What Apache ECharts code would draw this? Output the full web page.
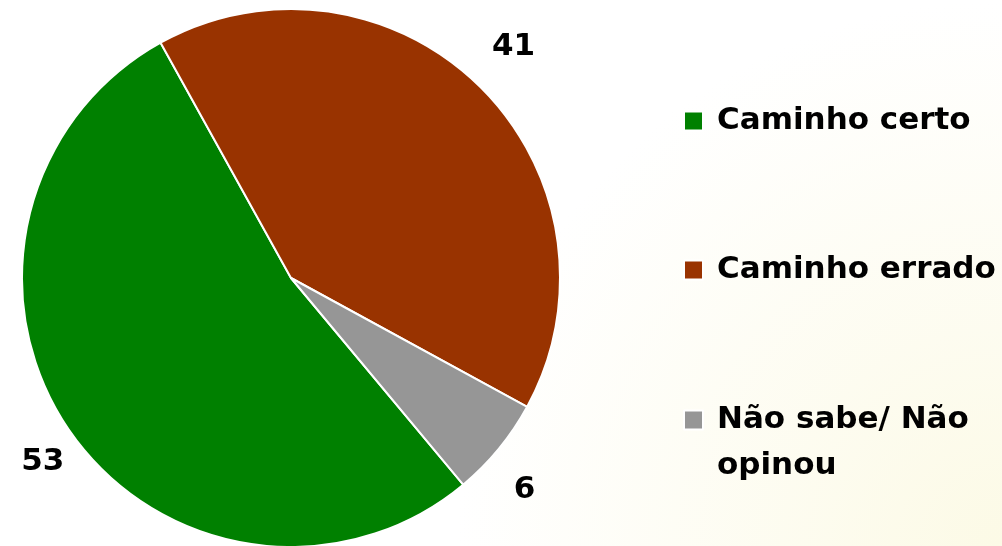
<!DOCTYPE html>
<html>
<head>
<meta charset="utf-8">
<script src="https://cdn.jsdelivr.net/npm/echarts@6/dist/echarts.min.js"></script>
<style>
  html, body { margin: 0; padding: 0; }
  #main { width: 1002px; height: 546px; }
</style>
</head>
<body>
<div id="main"></div>
<script>
let categories = ['Caminho certo', 'Caminho errado', 'Não sabe/ Não opinou'];
let values = [53, 41, 6];
let sliceColors = ['#008000', '#993300', '#969696'];

let fontName = '"DejaVu Sans", sans-serif';

let chart = echarts.init(document.getElementById('main'));

let pieData = categories.map(function (name, i) {
    return { name: name, value: values[i], itemStyle: { color: sliceColors[i] } };
});

// small nudges so the value labels sit where the original put them
let labelNudge = [[25, 12], [-14, -15], [-13, 18]];

// one legend per item so the spacing can follow the picture
function legendFor(name, top, label) {
    return {
        orient: 'vertical',
        left: 683,
        top: top,
        padding: 0,
        itemWidth: 19,
        itemHeight: 19,
        itemGap: 0,
        icon: 'rect',
        data: [name],
        formatter: function () { return label; },
        textStyle: {
            fontFamily: fontName,
            fontWeight: 'bold',
            fontSize: 31,
            lineHeight: 46,
            color: '#000',
            padding: [0, 0, 0, 9]
        }
    };
}

let option = {
    backgroundColor: new echarts.graphic.RadialGradient(1, 1, 1.0, [
        { offset: 0, color: '#fcfae6' },
        { offset: 1, color: '#ffffff' }
    ]),
    legend: [
        legendFor(categories[0], 98, 'Caminho certo'),
        legendFor(categories[1], 247, 'Caminho errado'),
        legendFor(categories[2], 351, '\nNão sabe/ Não\nopinou')
    ],
    series: [{
        type: 'pie',
        center: [291, 278],
        radius: 269,
        startAngle: 309.8,
        clockwise: true,
        avoidLabelOverlap: false,
        itemStyle: {
            borderColor: '#ffffff',
            borderWidth: 2
        },
        label: {
            show: true,
            position: 'outside',
            formatter: '{c}',
            fontFamily: fontName,
            fontWeight: 'bold',
            fontSize: 31,
            color: '#000',
            distanceToLabelLine: 0
        },
        labelLine: {
            show: false,
            length: 36,
            length2: 0
        },
        labelLayout: function (p) {
            return { dx: labelNudge[p.dataIndex][0], dy: labelNudge[p.dataIndex][1] };
        },
        emphasis: { disabled: true },
        data: pieData
    }]
};

chart.setOption(option);
</script>
</body>
</html>
